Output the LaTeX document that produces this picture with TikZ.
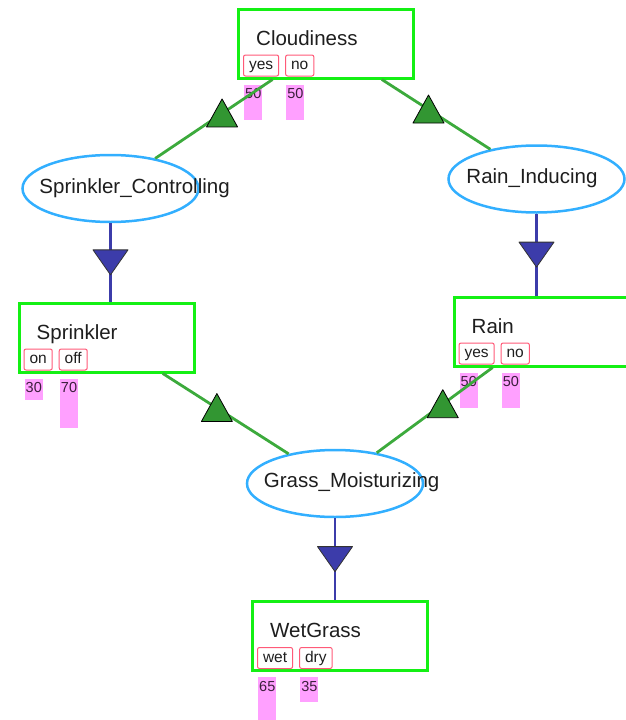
\documentclass[tikz,border=0pt]{standalone}
\usepackage{fontspec}
\setmainfont{Liberation Sans}
\usetikzlibrary{shapes,positioning,calc}
\definecolor{boxgreen}{RGB}{20,240,20}
\definecolor{ellblue}{RGB}{50,175,255}
\definecolor{linkgreen}{RGB}{60,170,60}
\definecolor{trigreen}{RGB}{50,150,50}
\definecolor{linkblue}{RGB}{60,60,170}
\definecolor{triblue}{RGB}{60,60,170}
\definecolor{statered}{RGB}{255,90,120}
\definecolor{pinkbar}{RGB}{255,160,255}
\definecolor{numcol}{RGB}{60,30,60}
\definecolor{textgray}{RGB}{30,30,30}
\tikzset{
    varbox/.style={rectangle, draw=boxgreen, fill=white, line width=3pt, minimum width=175pt, minimum height=69pt},
    vname/.style={anchor=base west, inner sep=0pt, text=textgray, font=\fontsize{20.5}{24}\selectfont},
    hidden/.style={ellipse, draw=ellblue, fill=white, line width=2.5pt, minimum width=176pt, minimum height=67pt},
    statebox/.style={rectangle, draw=statered, fill=white, rounded corners=2pt, line width=1pt, minimum height=21pt, inner xsep=5.5pt, inner ysep=0pt, text height=11pt, text depth=3pt, text=textgray, font=\fontsize{15.5}{18}\selectfont, anchor=south west},
    prob/.style={fill=pinkbar, text=numcol, text height=13pt, text depth=#1, inner sep=1pt, minimum width=18pt, anchor=north west, font=\fontsize{14.5}{17}\selectfont},
    gline/.style={draw=linkgreen, line width=2.8pt},
    bline/.style={draw=linkblue, line width=2.5pt},
    uptri/.pic={\filldraw[fill=trigreen, draw=black, line width=0.8pt, line join=round] (0,-14.5) -- (15.5,13.5) -- (-15.5,13.5) -- cycle;},
    downtri/.pic={\filldraw[fill=triblue, draw=black!80, line width=0.8pt, line join=round] (0,12.5) -- (17.5,-12.5) -- (-17.5,-12.5) -- cycle;}
}
\begin{document}
\begin{tikzpicture}[x=1pt, y=-1pt]
    \useasboundingbox (0,0) rectangle (626,720);

    % variables
    \node [varbox] (cloud) at (326,43.5) {};
    \node [vname] (cloudname) at ([xshift=19pt, yshift=-37.5pt]cloud.north west) {Cloudiness};
    \node [statebox] (cloudyes) at ([xshift=6pt, yshift=3pt]cloud.south west) {yes};
    \node [statebox, right=6pt of cloudyes] (cloudno) {no};
    \node [prob=20pt] (cloudyesp) at ([xshift=1pt, yshift=-8pt]cloudyes.south west) {50};
    \node [prob=20pt] (cloudnop) at ([xshift=1pt, yshift=-8pt]cloudno.south west) {50};

    \node [varbox] (spr) at (106.5,337.5) {};
    \node [vname] (sprname) at ([xshift=19pt, yshift=-37.5pt]spr.north west) {Sprinkler};
    \node [statebox] (spron) at ([xshift=6pt, yshift=3pt]spr.south west) {on};
    \node [statebox, right=6pt of spron] (sproff) {off};
    \node [prob=6pt] (spronp) at ([xshift=1pt, yshift=-8pt]spron.south west) {30};
    \node [prob=34pt] (sproffp) at ([xshift=1pt, yshift=-8pt]sproff.south west) {70};

    \node [varbox] (rain) at (541.5,331.5) {};
    \node [vname] (rainname) at ([xshift=19pt, yshift=-37.5pt]rain.north west) {Rain};
    \node [statebox] (rainyes) at ([xshift=6pt, yshift=3pt]rain.south west) {yes};
    \node [statebox, right=6pt of rainyes] (rainno) {no};
    \node [prob=20pt] (rainyesp) at ([xshift=1pt, yshift=-8pt]rainyes.south west) {50};
    \node [prob=20pt] (rainnop) at ([xshift=1pt, yshift=-8pt]rainno.south west) {50};

    \node [varbox] (wet) at (340,636) {};
    \node [vname] (wetname) at ([xshift=19pt, yshift=-37.5pt]wet.north west) {WetGrass};
    \node [statebox] (wetwet) at ([xshift=6pt, yshift=3pt]wet.south west) {wet};
    \node [statebox, right=6pt of wetwet] (wetdry) {dry};
    \node [prob=30.5pt] (wetwetp) at ([xshift=1pt, yshift=-8pt]wetwet.south west) {65};
    \node [prob=9.5pt] (wetdryp) at ([xshift=1pt, yshift=-8pt]wetdry.south west) {35};

    % hidden nodes
    \node [hidden] (sprctl) at (110.5,188.5) {};
    \node [vname] (sprctlname) at ([xshift=18pt, yshift=-4.5pt]sprctl.west) {Sprinkler\_Controlling};
    \node [hidden] (rainind) at (536.5,179) {};
    \node [vname] (rainindname) at ([xshift=19pt, yshift=-4.5pt]rainind.west) {Rain\_Inducing};
    \node [hidden] (gm) at (335,483.5) {};
    \node [vname] (gmname) at ([xshift=18pt, yshift=-3.5pt]gm.west) {Grass\_Moisturizing};

    % links
    \path [gline] (cloud) -- pic[pos=.43]{uptri} (sprctl);
    \path [gline] (cloud) -- pic[pos=.43]{uptri} (rainind);
    \path [bline] (sprctl) -- pic[pos=.5]{downtri} (sprctl |- spr.north);
    \path [bline] (rainind) -- pic[pos=.5]{downtri} (rainind |- rain.north);
    \path [gline] (spr) -- pic[pos=.43]{uptri} (gm);
    \path [gline] (rain) -- pic[pos=.43]{uptri} (gm);
    \path [bline] (gm) -- pic[pos=.5]{downtri} (gm |- wet.north);
\end{tikzpicture}
\end{document}
